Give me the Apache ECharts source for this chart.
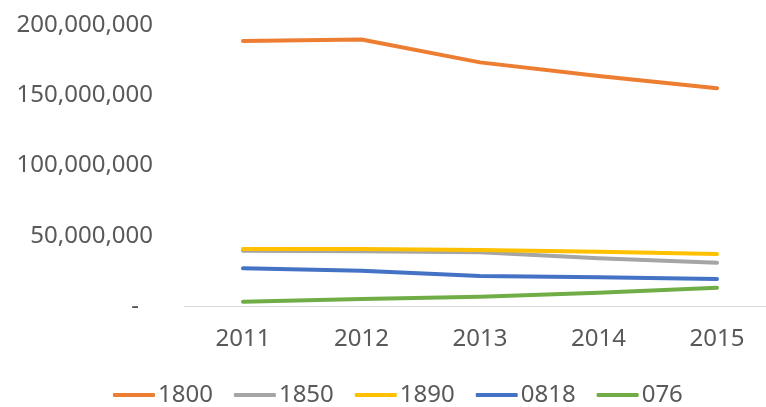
<!DOCTYPE html>
<html>
<head>
<meta charset="utf-8">
<script src="https://cdn.jsdelivr.net/npm/echarts@6/dist/echarts.min.js"></script>
<style>
  html, body { margin: 0; padding: 0; background: #fff; }
  #chart { width: 766px; height: 407px; }
</style>
</head>
<body>
<div id="chart"></div>
<script>
// data
var years = ['2011', '2012', '2013', '2014', '2015']
var seriesNames = ['1800', '1850', '1890', '0818', '076']
var s1800 = [188600000, 189700000, 173400000, 163700000, 155000000]
var s1850 = [39400000, 39000000, 38200000, 33900000, 30800000]
var s1890 = [40600000, 40500000, 39900000, 38700000, 37000000]
var s0818 = [26800000, 25100000, 21400000, 20400000, 19200000]
var s076 = [3100000, 5000000, 6600000, 9500000, 13000000]
var yTicks = [0, 50000000, 100000000, 150000000, 200000000]

var colors = ['#ED7D31', '#A5A5A5', '#FFC000', '#4472C4', '#70AD47']
var values = [s1800, s1850, s1890, s0818, s076]
var font = 'Noto Sans'
var fs = 24

var chart = echarts.init(document.getElementById('chart'))

var series = seriesNames.map(function (name, i) {
  return {
    name: name,
    type: 'line',
    data: values[i],
    symbol: 'none',
    color: colors[i],
    lineStyle: { width: 4, cap: 'round', join: 'round' },
    animation: false
  }
})

chart.setOption({
  textStyle: { fontFamily: font },
  // grid 0 holds the lines, grid 1 only draws the long baseline
  grid: [
    { left: 243, right: 49, top: 25, bottom: 101 },
    { left: 184, right: 0, top: 25, bottom: 101 }
  ],
  legend: {
    data: seriesNames,
    top: 378,
    left: 108,
    icon: 'roundRect',
    itemWidth: 42,
    itemHeight: 4,
    itemGap: 21,
    textStyle: { fontFamily: font, fontSize: fs, color: '#595959', padding: [0, 0, 0, -2] }
  },
  xAxis: [
    {
      type: 'category',
      gridIndex: 0,
      data: years,
      boundaryGap: false,
      axisLine: { show: false },
      axisTick: { show: false },
      axisLabel: { fontFamily: font, fontSize: fs, color: '#595959', margin: 21 }
    },
    {
      type: 'category',
      gridIndex: 1,
      data: years,
      axisLine: { lineStyle: { color: '#D9D9D9', width: 1 } },
      axisTick: { show: false },
      axisLabel: { show: false }
    }
  ],
  yAxis: [
    {
      type: 'value',
      gridIndex: 0,
      min: yTicks[0],
      max: yTicks[yTicks.length - 1],
      interval: yTicks[1] - yTicks[0],
      splitLine: { show: false },
      axisLine: { show: false },
      axisTick: { show: false },
      axisLabel: {
        fontFamily: font,
        fontSize: fs,
        color: '#595959',
        margin: 90,
        formatter: function (v) {
          if (v === 0) return '{d|-}'
          return v.toLocaleString('en-US')
        },
        rich: {
          d: { fontFamily: font, fontSize: fs, color: '#595959', padding: [0, 14, 0, 0] }
        }
      }
    },
    {
      type: 'value',
      gridIndex: 1,
      min: yTicks[0],
      max: yTicks[yTicks.length - 1],
      interval: yTicks[1] - yTicks[0],
      show: false
    }
  ],
  series: series
})
</script>
</body>
</html>
